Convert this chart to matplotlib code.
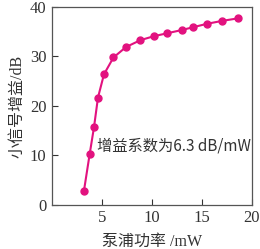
import matplotlib
matplotlib.use("Agg")
import matplotlib.pyplot as plt

# pump power (mW) vs small-signal gain (dB)
pump_power = [3.2, 3.77, 4.2, 4.6, 5.2, 6.15, 7.4, 8.85, 10.2, 11.55, 13.0, 14.1, 15.5, 17.05, 18.6]
gain_db = [2.9, 10.3, 15.7, 21.7, 26.4, 29.8, 31.9, 33.3, 34.1, 34.7, 35.35, 35.9, 36.6, 37.2, 37.7]
x_ticks = [5, 10, 15, 20]
y_ticks = [0, 10, 20, 30, 40]

plt.rcParams['font.family'] = ['Liberation Serif', 'Noto Sans CJK SC']
color = '#e2127f'

fig = plt.figure(figsize=(2.6, 2.49), dpi=100)
ax = fig.add_axes([0.2, 0.177, 0.769, 0.795])
ax.plot(pump_power, gain_db, color=color, lw=1.5, marker='o', ms=5)

ax.set_xlim(0, 20)
ax.set_ylim(0, 40)
ax.set_xticks(x_ticks)
ax.set_yticks(y_ticks)
ax.tick_params(direction='in', length=4, labelsize=12, colors='#333333', pad=4)
for s in ax.spines.values():
    s.set_color('#555555')
    s.set_linewidth(0.9)

ax.text(4.5, 11.9, '增益系数为6.3 dB/mW', fontsize=11, color='#333333', va='center',
        family=['Noto Sans CJK SC', 'Liberation Serif'], fontweight='light')
ax.set_xlabel('泵浦功率 /mW', fontsize=11.5, color='#333333', labelpad=5, fontweight='light')
ax.set_ylabel('小信号增益/dB', fontsize=11.5, color='#333333', labelpad=3, fontweight='light')

fig.savefig('out.png', dpi=100)
